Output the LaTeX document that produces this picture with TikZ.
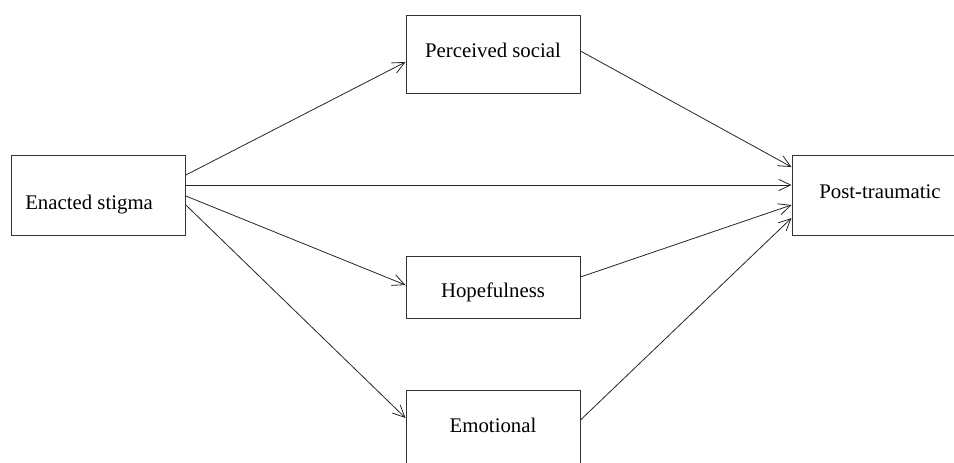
\documentclass[tikz,border=0pt]{standalone}
\usepackage{fontspec}
\setmainfont{Liberation Serif}
\usetikzlibrary{arrows.meta,calc}
\begin{document}
\begin{tikzpicture}[x=0.75pt,y=-0.75pt,
  box/.style={draw=black!80,line width=0.7pt,rectangle,minimum width=130.5pt,inner sep=0pt},
  lbl/.style={font=\fontsize{15.6}{18}\selectfont,inner sep=0pt},
  conn/.style={draw=black!85,line width=0.6pt,-{Straight Barb[length=9pt,width=8.5pt,line width=0.6pt]}}]
\useasboundingbox (0,0) rectangle (954,462);
\clip (0,0) rectangle (954,462);
\fill[white] (0,0) rectangle (954,462);
\node[box,minimum height=60pt] (es) at (98.4,195) {};
\node[box,minimum height=58.2pt] (ps) at (493,54.5) {};
\node[box,minimum height=46.5pt] (hp) at (493,287) {};
\node[box,minimum height=60pt] (em) at (493,430) {};
\node[box,minimum height=60pt] (pt) at (879,195) {};
\node[lbl,anchor=west] (est) at (25,205) {Enacted stigma};
\node[lbl] (pst) at (493,50) {Perceived social};
\node[lbl] (hpt) at (493,292) {Hopefulness};
\node[lbl] (emt) at (493,425) {Emotional};
\node[lbl] (ptt) at (880,192) {Post-traumatic};
\draw[conn] ($(es.east)+(0,-20)$) -- ($(ps.west)+(0,7.5)$);
\draw[conn] ($(es.east)+(0,-10)$) -- ($(pt.west)+(0,-10)$);
\draw[conn] ($(es.east)+(0,1)$) -- ($(hp.west)+(0,-2)$);
\draw[conn] ($(es.east)+(0,10)$) -- ($(em.west)+(0,-12)$);
\draw[conn] ($(ps.east)+(0,-3.5)$) -- ($(pt.west)+(0,-28)$);
\draw[conn] ($(hp.east)+(0,-10)$) -- ($(pt.west)+(0,10)$);
\draw[conn] ($(em.east)+(0,-10)$) -- ($(pt.west)+(0,23)$);
\end{tikzpicture}
\end{document}
